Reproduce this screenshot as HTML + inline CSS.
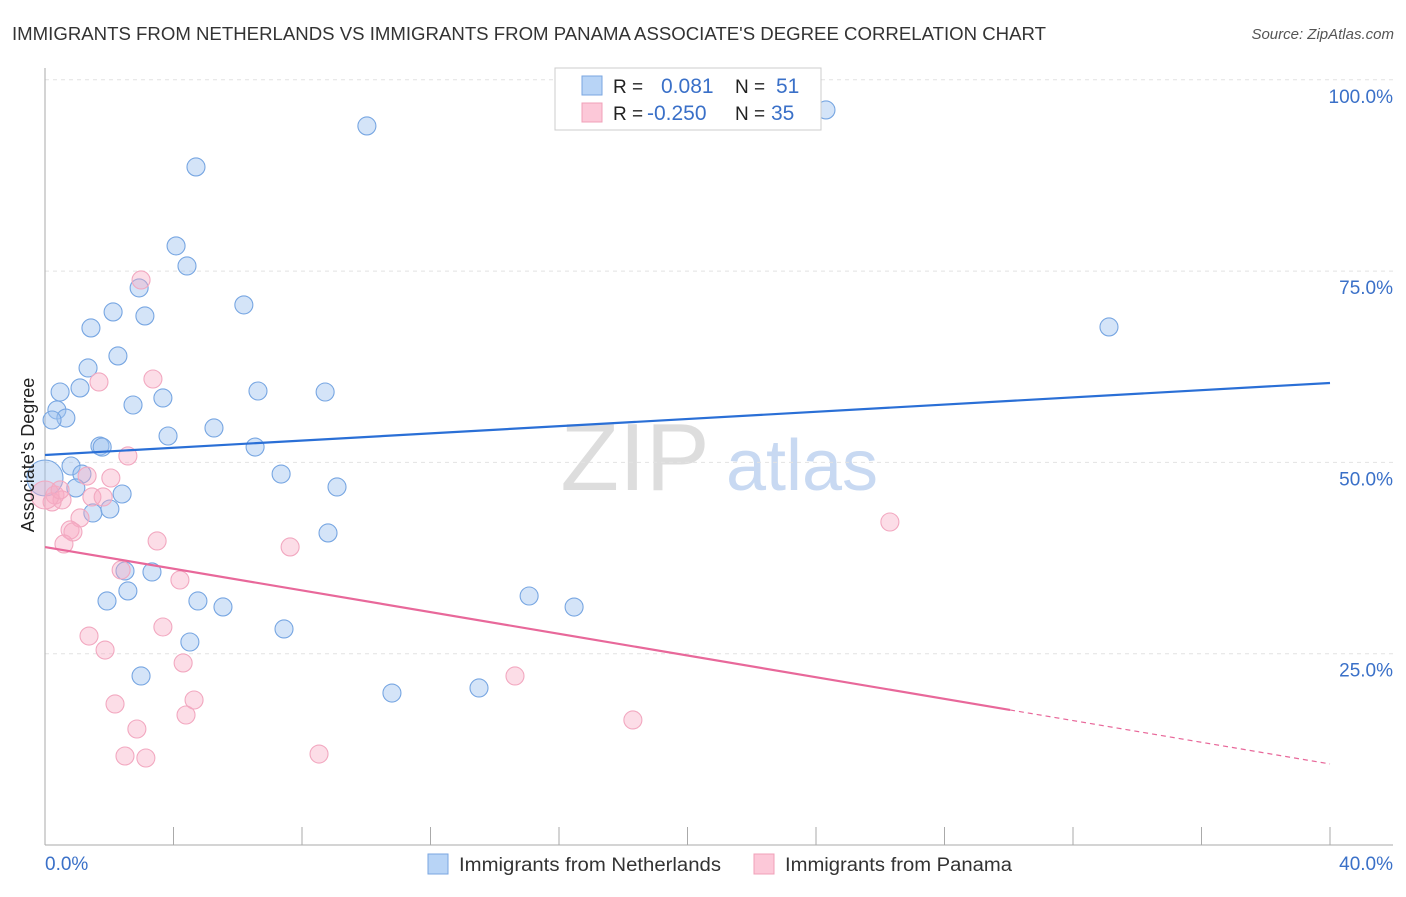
<!DOCTYPE html>
<html><head><meta charset="utf-8"><style>
body{margin:0;background:#fff;font-family:"Liberation Sans",sans-serif}
svg text{font-family:"Liberation Sans",sans-serif}
</style></head><body>
<svg id="c" width="1406" height="892" xmlns="http://www.w3.org/2000/svg">
<text x="12" y="40" font-size="18" fill="#333" textLength="1034" lengthAdjust="spacingAndGlyphs">IMMIGRANTS FROM NETHERLANDS VS IMMIGRANTS FROM PANAMA ASSOCIATE'S DEGREE CORRELATION CHART</text>
<text x="1394" y="39" font-size="15" fill="#555" font-style="italic" text-anchor="end">Source: ZipAtlas.com</text>
<g>
<text x="635" y="490" font-size="96" font-family="Liberation Serif,serif" fill="#ddd" text-anchor="middle">ZIP</text>
<text x="802" y="490" font-size="72" fill="#c8d9f2" text-anchor="middle">atlas</text>
</g>
<g id="grid"></g>
<g id="axes"></g>
<g id="pts"></g>
<g id="trend"></g>
<text transform="translate(34,455) rotate(-90)" font-size="18" fill="#222" text-anchor="middle">Associate's Degree</text>
<g>
<rect x="555" y="68" width="266" height="62" fill="#fff" stroke="#ccc"/>
<rect x="582" y="76" width="20" height="19" fill="#b8d4f6" stroke="#7aa6e0"/>
<rect x="582" y="103" width="20" height="19" fill="#fcc8d8" stroke="#f0a0b8"/>
<text x="613" y="93" font-size="19" fill="#222">R =</text>
<text x="661" y="93" font-size="21" fill="#3a70c8">0.081</text>
<text x="735" y="93" font-size="19" fill="#222">N =</text>
<text x="776" y="93" font-size="21" fill="#3a70c8">51</text>
<text x="613" y="120" font-size="19" fill="#222">R =</text>
<text x="647" y="120" font-size="21" fill="#3a70c8">-0.250</text>
<text x="735" y="120" font-size="19" fill="#222">N =</text>
<text x="771" y="120" font-size="21" fill="#3a70c8">35</text>
</g>
<g>
<rect x="428" y="854" width="20" height="20" fill="#b8d4f6" stroke="#7aa6e0"/>
<text x="459" y="871" font-size="19" fill="#333" textLength="262" lengthAdjust="spacingAndGlyphs">Immigrants from Netherlands</text>
<rect x="754" y="854" width="20" height="20" fill="#fcc8d8" stroke="#f0a0b8"/>
<text x="785" y="871" font-size="19" fill="#333" textLength="227" lengthAdjust="spacingAndGlyphs">Immigrants from Panama</text>
</g>
</svg>
<script>
const blueX=[24.31,10.02,4.70,4.08,4.42,2.93,6.19,2.12,3.11,33.12,1.43,2.27,1.34,0.47,1.09,6.63,8.72,3.67,2.74,0.37,0.65,0.22,5.26,3.83,1.71,6.54,0.81,1.15,7.35,0,0.96,9.09,2.40,1.49,2.02,8.81,2.49,3.33,2.58,1.93,4.76,15.07,5.54,16.47,4.51,7.44,2.99,10.80,13.51,1.78];
const blueY=[96.06,93.97,88.61,78.29,75.67,72.80,70.58,69.66,69.14,67.70,67.57,63.91,62.34,59.20,59.73,59.33,59.20,58.42,57.50,56.85,55.80,55.54,54.50,53.45,52.14,52.01,49.53,48.48,48.48,47.96,46.66,46.79,45.87,43.39,43.91,40.78,35.81,35.68,33.20,31.89,31.89,32.54,31.11,31.10,26.53,28.23,22.09,19.86,20.52,52.0];
const blueR=[9,9,9,9,9,9,9,9,9,9,9,9,9,9,9,9,9,9,9,9,9,9,9,9,9,9,9,9,9,18,9,9,9,9,9,9,9,9,9,9,9,9,9,9,9,9,9,9,9,9];
const pinkX=[2.99,1.68,3.36,2.58,2.05,1.31,0.31,1.46,1.81,0.53,0.22,1.09,0.78,0.87,0.59,3.49,7.63,2.37,4.20,26.30,3.67,1.37,1.87,4.30,14.63,2.18,4.64,4.39,2.86,18.30,8.53,2.49,3.14,0,0.47];
const pinkY=[73.84,60.51,60.90,50.84,47.96,48.22,45.74,45.48,45.48,45.09,44.83,42.74,41.17,40.91,39.34,39.73,38.95,35.94,34.63,42.21,28.49,27.31,25.48,23.79,22.09,18.43,18.95,16.99,15.16,16.34,11.89,11.63,11.37,45.74,46.40];
const pinkR=[9,9,9,9,9,9,9,9,9,9,9,9,9,9,9,9,9,9,9,9,9,9,9,9,9,9,9,9,9,9,9,9,9,14,9];
const blueTrend=[50.97,60.38];
const pinkTrend=[38.94,10.59];
const pinkSolidEnd=30.04;
const yTicks=[25,50,75,100];
const xTickLabels=["0.0%","40.0%"];
const NS="http://www.w3.org/2000/svg";
const sx=v=>45+v/40*1285;
const sy=v=>845-v/25*191.3;
function mk(tag,attrs,parent){const e=document.createElementNS(NS,tag);for(const k in attrs)e.setAttribute(k,attrs[k]);document.getElementById(parent).appendChild(e);return e;}
yTicks.forEach(t=>{
  const l=mk('line',{x1:45,x2:1393,y1:sy(t),y2:sy(t),stroke:'#e2e2e2','stroke-dasharray':'4,4'},'grid');
  
  
  const tx=mk('text',{x:1393,y:sy(t)+23,'font-size':19,fill:'#3a70c8','text-anchor':'end'},'grid');
  tx.textContent=t.toFixed(1)+'%';
  
  
});
let a=mk('line',{x1:45,x2:45,y1:68,y2:845,stroke:'#aaa'},'axes');


a=mk('line',{x1:45,x2:1393,y1:845,y2:845,stroke:'#aaa'},'axes');


for(let i=0;i<=10;i++){
  const t=mk('line',{x1:sx(i*4),x2:sx(i*4),y1:827,y2:845,stroke:'#aaa'},'axes');
  
  
}
let xl=mk('text',{x:45,y:870,'font-size':19,fill:'#3a70c8'},'axes');xl.textContent=xTickLabels[0];


xl=mk('text',{x:1393,y:870,'font-size':19,fill:'#3a70c8','text-anchor':'end'},'axes');xl.textContent=xTickLabels[1];


function dots(X,Y,R,fill,stroke,name){X.forEach((x,i)=>{
  const c=mk('circle',{cx:sx(x),cy:sy(Y[i]),r:R[i],fill:fill,stroke:stroke,'stroke-width':1.1},'pts');
  
  
});}
dots(blueX,blueY,blueR,'rgba(160,196,240,0.45)','#77a6e2','netherlands-point');
dots(pinkX,pinkY,pinkR,'rgba(248,170,196,0.4)','#f2a8c0','panama-point');
let l=mk('line',{x1:sx(0),y1:sy(blueTrend[0]),x2:sx(40),y2:sy(blueTrend[1]),stroke:'#2a6fd6','stroke-width':2.2},'trend');


const py=x=>pinkTrend[0]+(pinkTrend[1]-pinkTrend[0])*x/40;
l=mk('line',{x1:sx(0),y1:sy(pinkTrend[0]),x2:sx(pinkSolidEnd),y2:sy(py(pinkSolidEnd)),stroke:'#e8689a','stroke-width':2.2},'trend');


l=mk('line',{x1:sx(pinkSolidEnd),y1:sy(py(pinkSolidEnd)),x2:sx(40),y2:sy(pinkTrend[1]),stroke:'#e8689a','stroke-width':1.2,'stroke-dasharray':'5,4'},'trend');


</script>
</body></html>
